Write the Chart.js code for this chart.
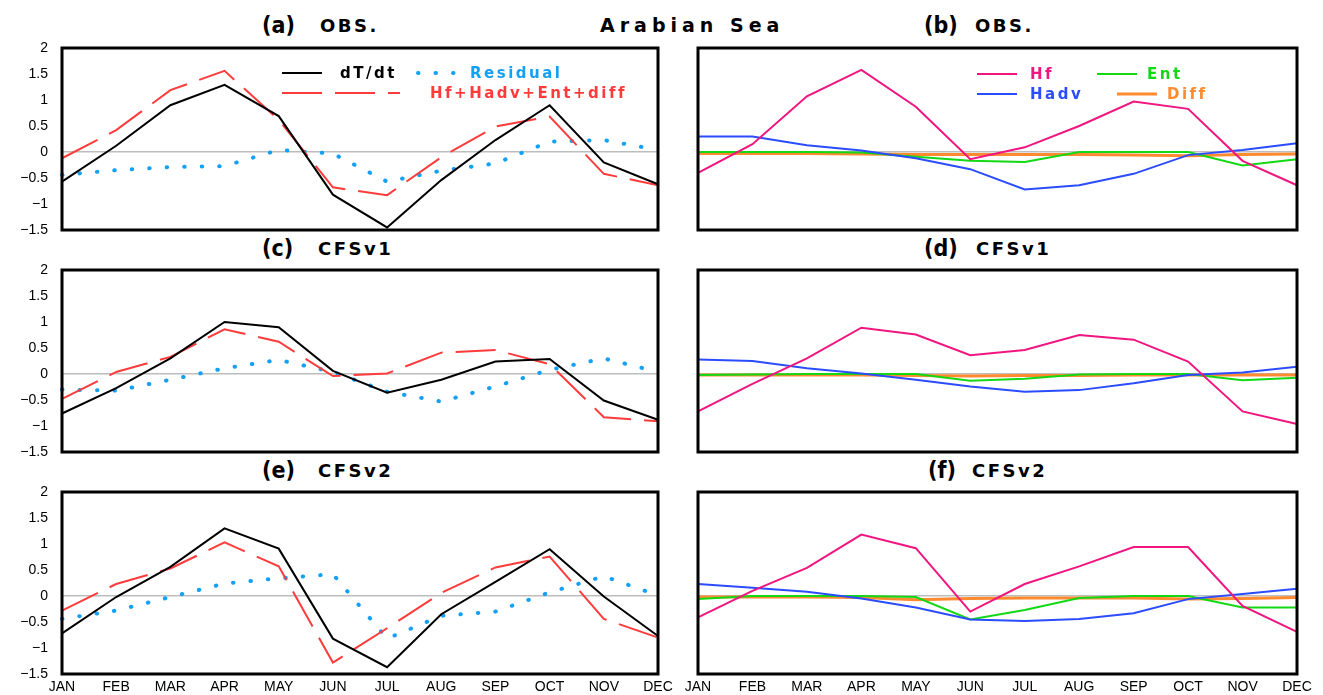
<!DOCTYPE html>
<html>
<head>
<meta charset="utf-8">
<script src="https://cdn.jsdelivr.net/npm/chart.js@4.4.1/dist/chart.umd.min.js"></script>
<style>
body { margin: 0; width: 1323px; height: 695px; background: #fff; position: relative; overflow: hidden; font-family: "DejaVu Sans", sans-serif; }
canvas { position: absolute; }
.t { position: absolute; white-space: nowrap; line-height: 1; color: #000; }
.lab { font-family: "DejaVu Sans Condensed", "DejaVu Sans", sans-serif; font-weight: bold; font-size: 23px; }
.run { font-weight: bold; font-size: 18px; letter-spacing: 2.5px; }
</style>
</head>
<body>
<div class="t" style="left:600px;top:16px;font-size:19px;font-weight:bold;letter-spacing:5px">Arabian Sea</div>
<div class="t lab" style="left:262px;top:14px">(a)</div><div class="t run" style="left:320px;top:17px">OBS.</div>
<div class="t lab" style="left:924px;top:14px">(b)</div><div class="t run" style="left:975px;top:17px">OBS.</div>
<div class="t lab" style="left:262px;top:237px">(c)</div><div class="t run" style="left:318px;top:240px">CFSv1</div>
<div class="t lab" style="left:924px;top:237px">(d)</div><div class="t run" style="left:976px;top:240px">CFSv1</div>
<div class="t lab" style="left:262px;top:459px">(e)</div><div class="t run" style="left:318px;top:462px">CFSv2</div>
<div class="t lab" style="left:928px;top:459px">(f)</div><div class="t run" style="left:972px;top:462px">CFSv2</div>
<script>
const months = ['JAN', 'FEB', 'MAR', 'APR', 'MAY', 'JUN', 'JUL', 'AUG', 'SEP', 'OCT', 'NOV', 'DEC'];
const yTicks = [-1.5, -1, -0.5, 0, 0.5, 1, 1.5, 2];

// OBS.
const obsDTdt = [-0.57, 0.12, 0.9, 1.29, 0.69, -0.82, -1.45, -0.54, 0.23, 0.9, -0.2, -0.62];
const obsSum = [-0.12, 0.42, 1.19, 1.56, 0.62, -0.68, -0.83, -0.1, 0.49, 0.68, -0.42, -0.64];
const obsResid = [-0.44, -0.35, -0.29, -0.27, 0.04, -0.03, -0.57, -0.36, -0.22, 0.2, 0.23, 0.04];
const obsHf = [-0.4, 0.15, 1.07, 1.58, 0.87, -0.14, 0.09, 0.5, 0.97, 0.83, -0.17, -0.64];
const obsHadv = [0.3, 0.3, 0.13, 0.03, -0.12, -0.33, -0.72, -0.64, -0.42, -0.06, 0.04, 0.17];
const obsEnt = [0, 0, 0, -0.01, -0.09, -0.17, -0.19, 0, 0, 0, -0.26, -0.14];
const obsDiff = [-0.03, -0.03, -0.03, -0.04, -0.05, -0.05, -0.05, -0.05, -0.06, -0.07, -0.05, -0.04];

// CFSv1
const v1DTdt = [-0.76, -0.27, 0.3, 1.0, 0.9, 0.06, -0.36, -0.11, 0.24, 0.29, -0.51, -0.88];
const v1Sum = [-0.48, 0.04, 0.33, 0.86, 0.62, -0.04, 0.01, 0.41, 0.46, 0.19, -0.83, -0.91];
const v1Resid = [-0.3, -0.32, -0.11, 0.11, 0.27, 0.04, -0.34, -0.53, -0.24, 0.08, 0.3, 0.04];
const v1Hf = [-0.72, -0.19, 0.3, 0.89, 0.76, 0.36, 0.46, 0.75, 0.66, 0.24, -0.72, -0.96];
const v1Hadv = [0.28, 0.25, 0.11, 0.01, -0.11, -0.24, -0.34, -0.31, -0.18, -0.02, 0.03, 0.14];
const v1Ent = [-0.02, -0.01, 0, 0, 0, -0.13, -0.09, -0.01, 0, 0, -0.12, -0.07];
const v1Diff = [-0.02, -0.02, -0.02, -0.02, -0.03, -0.04, -0.03, -0.03, -0.02, -0.02, -0.02, -0.02];

// CFSv2
const v2DTdt = [-0.72, -0.02, 0.56, 1.3, 0.91, -0.82, -1.37, -0.35, 0.27, 0.9, -0.01, -0.77];
const v2Sum = [-0.28, 0.23, 0.53, 1.03, 0.57, -1.28, -0.62, 0.06, 0.55, 0.76, -0.44, -0.8];
const v2Resid = [-0.44, -0.28, -0.02, 0.24, 0.34, 0.42, -0.82, -0.38, -0.3, 0.07, 0.38, 0.01];
const v2Hf = [-0.41, 0.1, 0.54, 1.18, 0.92, -0.3, 0.23, 0.57, 0.94, 0.94, -0.19, -0.69];
const v2Hadv = [0.23, 0.16, 0.08, -0.05, -0.22, -0.45, -0.48, -0.44, -0.33, -0.06, 0.04, 0.14];
const v2Ent = [-0.06, 0, 0, 0, -0.02, -0.45, -0.27, -0.04, 0, 0, -0.22, -0.22];
const v2Diff = [-0.02, -0.02, -0.02, -0.03, -0.07, -0.05, -0.04, -0.04, -0.04, -0.06, -0.05, -0.03];

const TICK_FONT = {family: '"Liberation Sans", Arial, sans-serif', size: 14};

// frame around the plot area and the in-plot legend
const panelDecor = {
    id: 'panelDecor',
    afterDatasetsDraw(chart, args, opts) {
        const ctx = chart.ctx;
        const a = chart.chartArea;
        ctx.save();
        (opts.items || []).forEach(it => {
            const ds = chart.data.datasets[it.index];
            const y = a.top + it.y;
            ctx.strokeStyle = ds.borderColor;
            ctx.lineWidth = ds.borderWidth;
            ctx.lineCap = ds.borderCapStyle || 'butt';
            ctx.setLineDash(ds.borderDash || []);
            ctx.beginPath();
            ctx.moveTo(a.left + it.x, y);
            ctx.lineTo(a.left + it.x + it.w, y);
            ctx.stroke();
            ctx.setLineDash([]);
            ctx.fillStyle = ds.borderColor;
            ctx.font = 'bold 15px "DejaVu Sans", sans-serif';
            ctx.letterSpacing = '2.5px';
            ctx.textBaseline = 'middle';
            ctx.textAlign = 'left';
            ctx.fillText(ds.label, a.left + it.tx, y + 1);
        });
        ctx.letterSpacing = '0px';
        ctx.lineWidth = 3;
        ctx.strokeStyle = '#000';
        ctx.strokeRect(a.left, a.top, a.right - a.left, a.bottom - a.top);
        ctx.restore();
    }
};

function budgetSets(dTdt, sum, resid) {
    return [
        {label: 'dT/dt', data: dTdt, borderColor: '#000000', borderWidth: 2},
        {label: 'Hf+Hadv+Ent+diff', data: sum, borderColor: '#ff3b3b', borderWidth: 2, borderDash: [40, 13]},
        {label: 'Residual', data: resid, borderColor: '#14a0f5', borderWidth: 4, borderDash: [0.5, 17], borderCapStyle: 'round'}
    ];
}

function termSets(hf, hadv, ent, diff) {
    return [
        {label: 'Hf', data: hf, borderColor: '#f0157f', borderWidth: 2},
        {label: 'Hadv', data: hadv, borderColor: '#2b4cff', borderWidth: 2},
        {label: 'Ent', data: ent, borderColor: '#14d814', borderWidth: 2},
        {label: 'Diff', data: diff, borderColor: '#ff8a30', borderWidth: 3}
    ];
}

const budgetLegend = [
    {index: 0, x: 220, w: 40, tx: 278, y: 25},
    {index: 2, x: 356, w: 37, tx: 408, y: 25},
    {index: 1, x: 220, w: 118, tx: 368, y: 45}
];
const termLegend = [
    {index: 0, x: 279, w: 40, tx: 332, y: 26},
    {index: 2, x: 399, w: 40, tx: 449, y: 26},
    {index: 1, x: 279, w: 40, tx: 332, y: 46},
    {index: 3, x: 419, w: 40, tx: 469, y: 46}
];

const PAD_TOP = 23;
const panels = [
    {left: 0, width: 678, top: 48, sets: budgetSets(obsDTdt, obsSum, obsResid), legend: budgetLegend, yLab: true, xLab: false},
    {left: 636, width: 681, top: 48, sets: termSets(obsHf, obsHadv, obsEnt, obsDiff), legend: termLegend, yLab: false, xLab: false},
    {left: 0, width: 678, top: 270, sets: budgetSets(v1DTdt, v1Sum, v1Resid), legend: [], yLab: true, xLab: false},
    {left: 636, width: 681, top: 270, sets: termSets(v1Hf, v1Hadv, v1Ent, v1Diff), legend: [], yLab: false, xLab: false},
    {left: 0, width: 678, top: 492, sets: budgetSets(v2DTdt, v2Sum, v2Resid), legend: [], yLab: true, xLab: true},
    {left: 636, width: 681, top: 492, sets: termSets(v2Hf, v2Hadv, v2Ent, v2Diff), legend: [], yLab: false, xLab: true}
];

panels.forEach(p => {
    const cv = document.createElement('canvas');
    cv.width = p.width;
    cv.height = PAD_TOP + 182 + 24;
    cv.style.left = p.left + 'px';
    cv.style.top = (p.top - PAD_TOP) + 'px';
    document.body.appendChild(cv);

    new Chart(cv, {
        type: 'line',
        data: {
            labels: months,
            datasets: p.sets.map(s => Object.assign({pointRadius: 0, tension: 0, fill: false}, s))
        },
        options: {
            responsive: false,
            animation: false,
            layout: {padding: {left: 0, right: 20, top: PAD_TOP, bottom: 0}},
            plugins: {
                legend: {display: false},
                tooltip: {enabled: false},
                panelDecor: {items: p.legend}
            },
            scales: {
                x: {
                    offset: false,
                    grid: {display: false, drawTicks: false},
                    border: {display: false},
                    ticks: {display: p.xLab, color: '#000', font: TICK_FONT, maxRotation: 0, autoSkip: false, padding: 5},
                    afterFit: s => { s.height = 24; }
                },
                y: {
                    min: yTicks[0],
                    max: yTicks[yTicks.length - 1],
                    border: {display: false},
                    grid: {
                        drawTicks: false,
                        lineWidth: 1.5,
                        color: c => (c.tick && c.tick.value === 0) ? '#bdbdbd' : 'rgba(0,0,0,0)'
                    },
                    ticks: {
                        display: p.yLab,
                        stepSize: 0.5,
                        padding: 14,
                        color: '#000',
                        font: TICK_FONT,
                        callback: v => v < 0 ? '\u2212' + Math.abs(v) : String(v)
                    },
                    afterFit: s => { s.width = 62; }
                }
            }
        },
        plugins: [panelDecor]
    });
});
</script>
</body>
</html>
